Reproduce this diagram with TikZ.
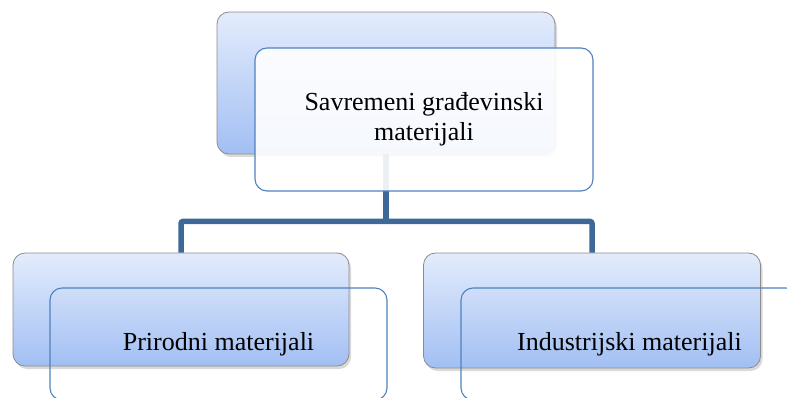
\documentclass[tikz,border=0pt]{standalone}
\usepackage{fontspec}
\setmainfont{Liberation Serif}
\usetikzlibrary{shadows}

\definecolor{boxtop}{HTML}{E3ECFC}
\definecolor{boxbottom}{HTML}{A2BFF3}
\definecolor{boxline}{HTML}{4F81BD}
\definecolor{connline}{HTML}{3E6898}

\tikzset{
  backbox/.style={rectangle, rounded corners=12pt, inner sep=0pt, draw=gray!90, line width=0.8pt,
    top color=boxtop, bottom color=boxbottom,
    drop shadow={shadow xshift=2pt, shadow yshift=-3pt, opacity=0.3}},
  frontbox/.style={rectangle, rounded corners=12pt, inner sep=0pt, draw=boxline, line width=1.1pt,
    align=center, font=\fontsize{26}{30}\selectfont},
  conn/.style={draw=connline, line width=5.5pt, rounded corners=2pt}
}

\begin{document}
\begin{tikzpicture}[x=1pt, y=-1pt]
    \useasboundingbox (0,0) rectangle (787,398);
    \clip (0,0) rectangle (787,398);

    % Back boxes
    \node[backbox, minimum width=338pt, minimum height=142pt] (topback) at (386,83) {};
    \node[backbox, minimum width=336pt, minimum height=113pt] (leftback) at (181,309.5) {};
    \node[backbox, minimum width=337pt, minimum height=115pt] (rightback) at (592,310.5) {};

    % Connectors
    \coordinate (fork) at (386,221.5);
    \draw[conn] (topback.south) -- (fork);
    \draw[conn] (fork) -| (leftback.north);
    \draw[conn] (fork) -| (rightback.north);

    % Front boxes with text
    \node[frontbox, fill=white, fill opacity=0.9, text opacity=1,
      minimum width=338pt, minimum height=143pt] (topfront) at (424,119.5)
      {Savremeni građevinski\\materijali};
    \node[frontbox, minimum width=337pt, minimum height=112pt] (leftfront) at (218.5,344)
      {Prirodni materijali};
    \node[frontbox, minimum width=337pt, minimum height=112pt] (rightfront) at (629.5,344)
      {Industrijski materijali};
\end{tikzpicture}
\end{document}
